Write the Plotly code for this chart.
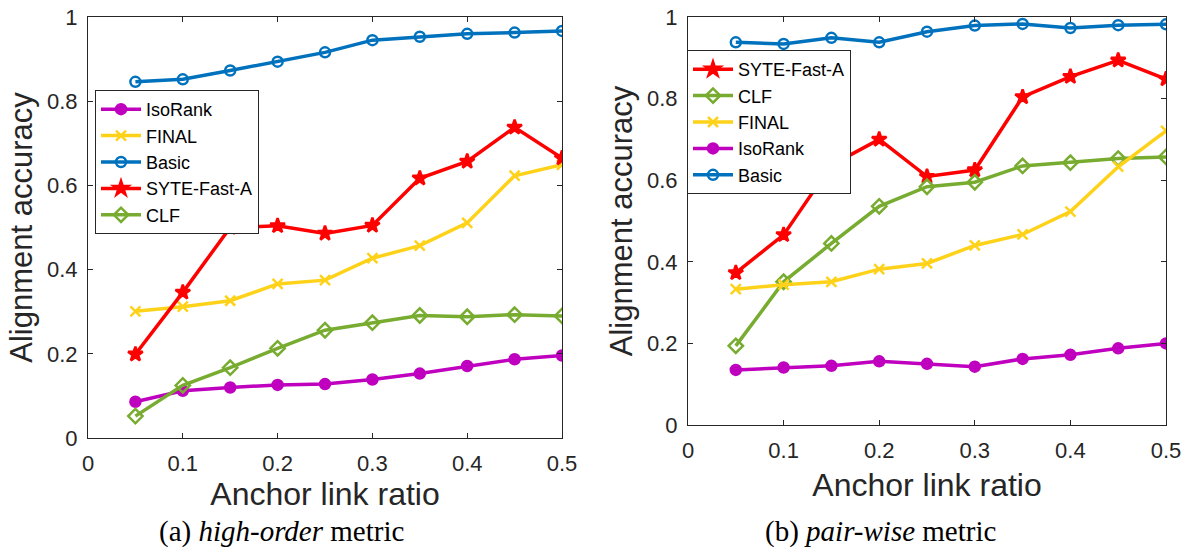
import plotly.graph_objects as go

x_ratio = [0.05, 0.10, 0.15, 0.20, 0.25, 0.30, 0.35, 0.40, 0.45, 0.50]

# (a) high-order metric
a_isorank = [0.086, 0.112, 0.120, 0.126, 0.128, 0.139, 0.153, 0.171, 0.187, 0.196]
a_final = [0.301, 0.312, 0.326, 0.366, 0.375, 0.427, 0.457, 0.511, 0.623, 0.649]
a_basic = [0.846, 0.852, 0.873, 0.894, 0.916, 0.945, 0.953, 0.960, 0.963, 0.967]
a_syte = [0.199, 0.346, 0.500, 0.504, 0.486, 0.505, 0.617, 0.657, 0.738, 0.665]
a_clf = [0.052, 0.125, 0.167, 0.213, 0.256, 0.274, 0.291, 0.288, 0.293, 0.290]

# (b) pair-wise metric
b_syte = [0.373, 0.466, 0.637, 0.700, 0.609, 0.625, 0.804, 0.854, 0.894, 0.848]
b_clf = [0.194, 0.351, 0.445, 0.536, 0.584, 0.595, 0.635, 0.643, 0.653, 0.657]
b_final = [0.333, 0.344, 0.351, 0.382, 0.396, 0.440, 0.467, 0.523, 0.633, 0.721]
b_isorank = [0.135, 0.141, 0.145, 0.156, 0.150, 0.143, 0.162, 0.172, 0.188, 0.200]
b_basic = [0.938, 0.934, 0.949, 0.938, 0.964, 0.979, 0.983, 0.973, 0.980, 0.982]

x_ticks = [0, 0.1, 0.2, 0.3, 0.4, 0.5]
x_ticktext = ["0", "0.1", "0.2", "0.3", "0.4", "0.5"]
y_ticks = [0, 0.2, 0.4, 0.6, 0.8, 1]
y_ticktext = ["0", "0.2", "0.4", "0.6", "0.8", "1"]

x_title = "Anchor link ratio"
y_title = "Alignment accuracy"
caption_a = "(a) <i>high-order</i> metric"
caption_b = "(b) <i>pair-wise</i> metric"

STYLES = {
    "IsoRank": dict(color="#BF00BF", symbol="circle", size=10),
    "FINAL": dict(color="#FFD21A", symbol="x-thin-open", size=10),
    "Basic": dict(color="#0072BD", symbol="circle-open", size=10),
    "SYTE-Fast-A": dict(color="#FF0000", symbol="star", size=11),
    "CLF": dict(color="#77AC30", symbol="diamond-open", size=11),
}

AXC = "#262626"
SANS = "Liberation Sans, Arial, Helvetica, sans-serif"

fig = go.Figure()


def add(name, ys, xa, ya, legend):
    st = STYLES[name]
    fig.add_trace(go.Scatter(
        x=x_ratio, y=ys, name=name, mode="lines+markers",
        xaxis=xa, yaxis=ya, legend=legend,
        line=dict(color=st["color"], width=3.5),
        marker=dict(symbol=st["symbol"], size=st["size"], color=st["color"],
                    line=dict(color=st["color"], width=2.5)),
    ))


for n, ys in [("IsoRank", a_isorank), ("FINAL", a_final), ("Basic", a_basic),
              ("SYTE-Fast-A", a_syte), ("CLF", a_clf)]:
    add(n, ys, "x", "y", "legend")

for n, ys in [("SYTE-Fast-A", b_syte), ("CLF", b_clf), ("FINAL", b_final),
              ("IsoRank", b_isorank), ("Basic", b_basic)]:
    add(n, ys, "x2", "y2", "legend2")

W, H = 1182, 550


def px_x(p):
    return p / W


def px_y(p):
    return 1 - p / H


axis_common = dict(
    showline=True, linecolor=AXC, linewidth=1, mirror="ticks",
    ticks="inside", ticklen=5, tickcolor=AXC, tickwidth=1,
    showgrid=False, zeroline=False, automargin=False,
    tickfont=dict(family=SANS, size=22, color=AXC),
)

xaxis_common = dict(axis_common, range=[0, 0.5], tickvals=x_ticks, ticktext=x_ticktext,
                    ticklabelstandoff=6)
yaxis_common = dict(axis_common, range=[0, 1], tickvals=y_ticks, ticktext=y_ticktext,
                    title=dict(text=y_title, font=dict(family=SANS, size=31, color=AXC), standoff=5),
                    ticklabelstandoff=5)

xt_font = dict(family=SANS, size=32, color=AXC)

fig.update_layout(
    width=W, height=H,
    margin=dict(l=0, r=0, t=0, b=0),
    plot_bgcolor="white", paper_bgcolor="white",
    xaxis=dict(xaxis_common, domain=[px_x(88), px_x(562)], anchor="y",
               title=dict(text=x_title, font=xt_font, standoff=1)),
    yaxis=dict(yaxis_common, domain=[px_y(438), px_y(17)], anchor="x"),
    xaxis2=dict(xaxis_common, domain=[px_x(688), px_x(1166)], anchor="y2",
                title=dict(text=x_title, font=xt_font, standoff=11)),
    yaxis2=dict(yaxis_common, domain=[px_y(425), px_y(17)], anchor="x2"),
    legend=dict(x=px_x(95), y=px_y(90), xanchor="left", yanchor="top",
                bgcolor="white", bordercolor=AXC, borderwidth=1,
                font=dict(family=SANS, size=18, color="black"),
                tracegroupgap=0, itemwidth=40),
    legend2=dict(x=px_x(687), y=px_y(50), xanchor="left", yanchor="top",
                 bgcolor="white", bordercolor=AXC, borderwidth=1,
                 font=dict(family=SANS, size=18, color="black"),
                 tracegroupgap=0, itemwidth=40),
    showlegend=True,
)

cap_font = dict(family="Liberation Serif, Times New Roman, serif", size=29, color="black")
fig.add_annotation(text=caption_a, x=px_x(281), y=px_y(531), xref="paper", yref="paper",
                   showarrow=False, xanchor="center", yanchor="middle", font=cap_font)
fig.add_annotation(text=caption_b, x=px_x(880), y=px_y(531), xref="paper", yref="paper",
                   showarrow=False, xanchor="center", yanchor="middle", font=cap_font)

fig.write_html("out.html")
